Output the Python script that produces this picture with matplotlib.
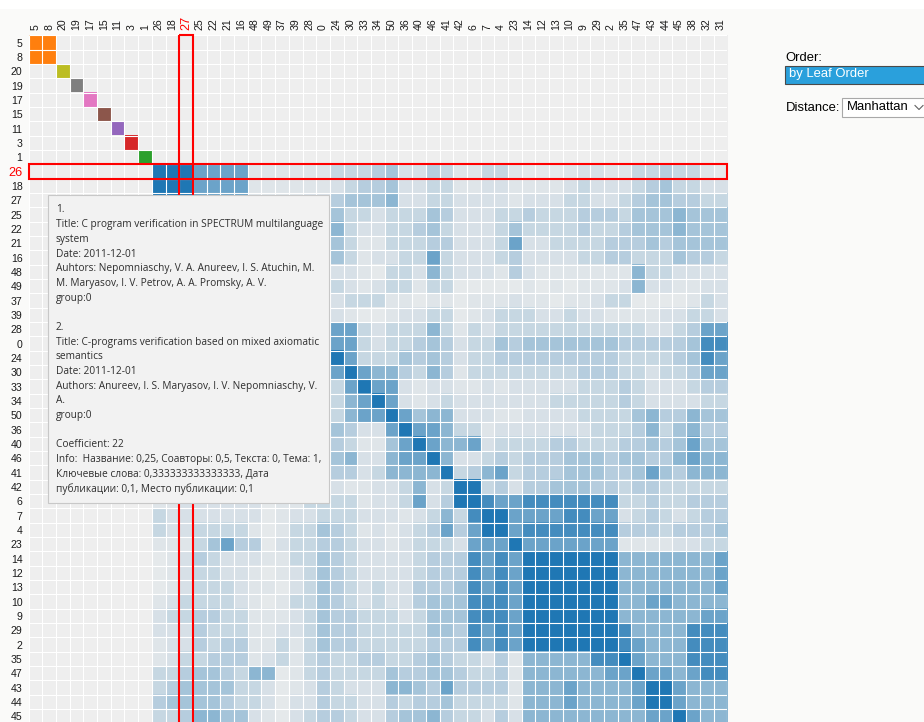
import numpy as np
import matplotlib
matplotlib.use("Agg")
import matplotlib.pyplot as plt
from matplotlib.patches import Rectangle
from matplotlib.colors import to_rgb

# ---------------- data ----------------
labels = ['5', '8', '20', '19', '17', '15', '11', '3', '1', '26', '18', '27', '25', '22',
          '21', '16', '48', '49', '37', '39', '28', '0', '24', '30', '33', '34', '50', '36',
          '40', '46', '41', '42', '6', '7', '4', '23', '14', '12', '13', '10', '9', '29',
          '2', '35', '47', '43', '44', '45', '38', '32', '31']
groups = [1, 1, 8, 7, 6, 5, 4, 3, 2] + [0] * 42
group_colors = ['#1f77b4', '#ff7f0e', '#2ca02c', '#d62728', '#9467bd',
                '#8c564b', '#e377c2', '#7f7f7f', '#bcbd22', '#17becf']

# links inside the small groups (pairs of node indices), all at full strength
small_group_links = [(0, 1)]

# group-0 similarity levels (0..9); row k is node 9+k, from its diagonal to the end
blue_rows = [
    "9997777 111111 33345224 311331 0001221 13343310",
    "997777 111111 23445223 311221 1112322 23453322",
    "97777 111122 45556223 322221 2223322 34554433",
    "9777 222222 53323335 422233 4333444 35556555",
    "977 222222 63223345 322235 3333433 45556555",
    "97 222222 53113334 422237 2233334 44545555",
    "9 222222 53122337 322234 2222334 43335443",
    "932222 22103326 322214 2111111 16332222",
    "92222 32123313 300000 1010111 26221122",
    "9222 23331101 101112 1101123 30000132",
    "922 21001223 301233 3223221 11122332",
    "98 77323336 313233 3333333 33223477",
    "9 77323345 423354 5555555 44444588",
    "97333545 423344 4444444 33334587",
    "9766436 413333 3333444 33233477",
    "977212 211212 2222333 43222344",
    "97212 322222 2233333 43222233",
    "9756 622211 2222333 35644655",
    "977 633122 2222233 34635644",
    "97 667233 3344333 44545755",
    "9 622343 4445554 55446766",
    "934673 4445554 45754666",
    "99342 4455544 34433333",
    "9877 8888888 33433444",
    "997 7778877 23432344",
    "97 8888888 44434445",
    "9 7777777 11112233",
    "9999999 66666667",
    "999999 66666667",
    "99999 66666667",
    "9999 66776666",
    "999 66666677",
    "99 86666888",
    "9 87666888",
    "97666888",
    "9776788",
    "997666",
    "97666",
    "9766",
    "988",
    "98",
    "9",
]
level_alpha = [0.04, 0.07, 0.11, 0.19, 0.27, 0.35, 0.47, 0.63, 0.82, 1.0]

active_row = '26'
active_col = '27'

tooltip_lines = [
    "1.",
    "Title: C program verification in SPECTRUM multilanguage",
    "system",
    "Date: 2011-12-01",
    "Auhtors: Nepomniaschy, V. A. Anureev, I. S. Atuchin, M.",
    "M. Maryasov, I. V. Petrov, A. A. Promsky, A. V.",
    "group:0",
    "",
    "2.",
    "Title: C-programs verification based on mixed axiomatic",
    "semantics",
    "Date: 2011-12-01",
    "Authors: Anureev, I. S. Maryasov, I. V. Nepomniaschy, V.",
    "A.",
    "group:0",
    "",
    "Coefficient: 22",
    "Info:  Название: 0,25, Соавторы: 0,5, Текста: 0, Тема: 1,",
    "Ключевые слова: 0,333333333333333, Дата",
    "публикации: 0,1, Место публикации: 0,1",
]

# ---------------- build matrix ----------------
n = len(labels)
level = np.full((n, n), -1, dtype=int)
for i in range(9):
    level[i, i] = 9
for a, b in small_group_links:
    level[a, b] = level[b, a] = 9
first = n - len(blue_rows)
for k, s in enumerate(blue_rows):
    i = first + k
    for m, ch in enumerate(s.replace(" ", "")):
        j = i + m
        if j < n:
            level[i, j] = level[j, i] = int(ch)

bg = np.array(to_rgb('#eeeeee'))
img = np.tile(bg, (n, n, 1))
for i in range(n):
    for j in range(n):
        if level[i, j] >= 0 and groups[i] == groups[j]:
            a = level_alpha[level[i, j]]
            c = np.array(to_rgb(group_colors[groups[i]]))
            img[i, j] = a * c + (1 - a) * bg

# ---------------- figure ----------------
W, H = 924, 722
fig = plt.figure(figsize=(W / 100, H / 100), dpi=100)
fig.patch.set_facecolor('#fafaf9')

cw, ch_ = 13.7, 14.33
left_px, top_px = 28.5, 35.5
ax = fig.add_axes([left_px / W, (H - top_px - ch_ * n) / H, cw * n / W, ch_ * n / H])
ax.imshow(img, extent=(0, n, n, 0), interpolation='nearest', aspect='auto')
ax.vlines(np.arange(n + 1), 0, n, colors='white', linewidth=0.8)
ax.hlines(np.arange(n + 1), 0, n, colors='white', linewidth=0.8)
ax.set_xlim(0, n)
ax.set_ylim(n, 0)
for sp in ax.spines.values():
    sp.set_visible(False)

ax.xaxis.tick_top()
ax.set_xticks(np.arange(n) + 0.5)
ax.set_xticklabels(labels, rotation=90, family='Liberation Sans', fontsize=7.6, color='#1a1a1a')
ax.set_yticks(np.arange(n) + 0.5)
ax.set_yticklabels(labels, family='Liberation Sans', fontsize=7.6, color='#1a1a1a')
ax.tick_params(length=0, pad=4.3)
for t in ax.get_xticklabels():
    if t.get_text() == active_col:
        t.set_color('red'); t.set_fontsize(9.2)
for t in ax.get_yticklabels():
    if t.get_text() == active_row:
        t.set_color('red'); t.set_fontsize(9.2)

# rows whose label centre falls below the picture are not drawn (as in the cut-off page)
fig_bottom_in_data = ax.transData.inverted().transform((0, 0))[1]
for pos, t in zip(np.arange(n) + 0.5, ax.get_yticklabels()):
    if pos > fig_bottom_in_data - 0.3:
        t.set_visible(False)

r = labels.index(active_row)
c = labels.index(active_col)
ax.add_patch(Rectangle((0, r), n, 1, fill=False, ec='red', lw=1.5, clip_on=False, zorder=5))
ax.add_patch(Rectangle((c, 0), 1, n, fill=False, ec='red', lw=1.5, clip_on=False, zorder=5))

# ---------------- overlay (tooltip + controls) ----------------
ov = fig.add_axes([0, 0, 1, 1], zorder=10)
ov.set_xlim(0, W)
ov.set_ylim(H, 0)
ov.axis('off')
ov.patch.set_alpha(0)

ov.add_patch(Rectangle((0, 0), W, 9, fc='white', ec='none'))

ov.add_patch(Rectangle((47.5, 195), 281.5, 308, fc='#f2f2f2', ec='#c8c8c8', lw=0.8))
for k, line in enumerate(tooltip_lines):
    if line:
        ov.text(56, 210 + 14.67 * k, line, family='Open Sans', fontsize=7.25,
                color='#2e2e2e', va='center', ha='left')

ui_font = dict(family='Liberation Sans', fontsize=9.4, va='center', ha='left')
ov.text(785.5, 58, "Order:", color='black', **ui_font)
ov.add_patch(Rectangle((785, 65.5), 145, 18.5, fc='#2aa0dc', ec='#4a4a4a', lw=0.8))
ov.text(789, 74.5, "by Leaf Order", color='white', **ui_font)
ov.text(785.5, 108, "Distance:", color='black', **ui_font)
ov.add_patch(Rectangle((842, 97.5), 90, 19.5, fc='white', ec='#a8a8a8', lw=0.8))
ov.text(846.5, 107.5, "Manhattan", color='black', **ui_font)
ov.plot([915, 919, 923], [105.5, 109.5, 105.5], color='#606060', lw=0.8)

fig.savefig('out.png', dpi=100, facecolor=fig.get_facecolor())
